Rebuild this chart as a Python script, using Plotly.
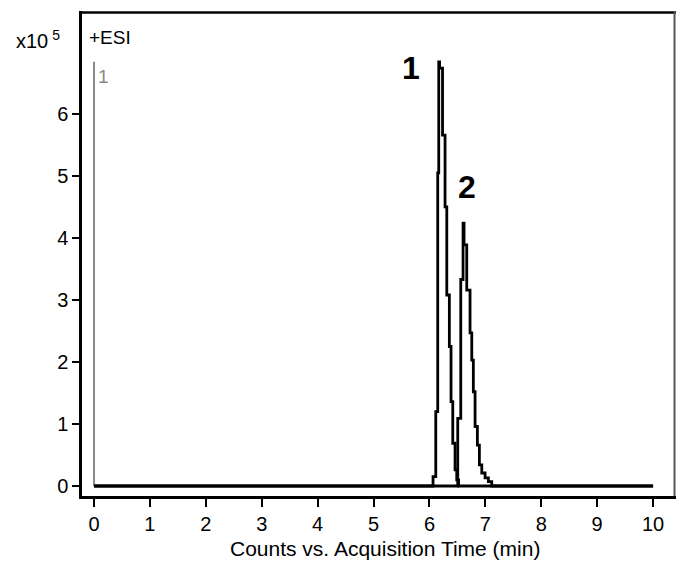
import plotly.graph_objects as go

# Peak 1 (compound 1) chromatogram: acquisition time (min) vs counts (x10^5)
t1 = [0.0, 6.064, 6.113, 6.148, 6.166, 6.181, 6.234, 6.279, 6.310, 6.356, 6.386,
      6.417, 6.458, 6.488, 6.521, 6.548, 10.0]
y1 = [0.0, 0.0, 0.15, 1.20, 5.05, 6.84, 6.74, 5.66, 4.50, 3.08, 2.25,
      1.36, 0.69, 0.26, 0.10, 0.0, 0.0]

# Peak 2 (compound 2)
t2 = [0.0, 6.506, 6.560, 6.601, 6.619, 6.667, 6.726, 6.757, 6.785, 6.816, 6.857,
      6.893, 6.936, 6.995, 7.054, 7.114, 7.16, 10.0]
y2 = [0.0, 0.0, 1.09, 3.33, 4.24, 3.89, 3.16, 2.47, 2.03, 1.52, 0.96,
      0.66, 0.34, 0.21, 0.13, 0.07, 0.0, 0.0]

# scale marker
marker_t = [0.0, 0.0]
marker_y = [0.0, 6.84]

x_ticks = list(range(0, 11))
y_ticks = list(range(0, 7))
peak_labels = ["1", "2"]
peak_label_t = [5.67, 6.67]
peak_label_y = [6.74, 4.82]

FONT = "Liberation Sans, Arial, sans-serif"

fig = go.Figure()
fig.add_trace(go.Scatter(x=marker_t, y=marker_y, mode="lines",
                         line=dict(color="#8a8a8a", width=2), hoverinfo="skip"))
fig.add_trace(go.Scatter(x=t1, y=y1, mode="lines", line_shape="vh",
                         line=dict(color="black", width=2.8)))
fig.add_trace(go.Scatter(x=t2, y=y2, mode="lines", line_shape="vh",
                         line=dict(color="black", width=2.8)))

annotations = []
for lab, tx, ty in zip(peak_labels, peak_label_t, peak_label_y):
    annotations.append(dict(x=tx, y=ty, xref="x", yref="y", text="<b>%s</b>" % lab,
                            showarrow=False, font=dict(family=FONT, size=32, color="black")))
annotations += [
    dict(x=0.17, y=6.61, xref="x", yref="y", text="1", showarrow=False,
         font=dict(family=FONT, size=19, color="#8a8a8a")),
    dict(x=-0.115, y=0.942, xref="paper", yref="paper", xanchor="left", yanchor="middle",
         text="x10<sup> 5</sup>", showarrow=False, font=dict(family=FONT, size=20, color="black")),
    dict(x=0.009, y=0.945, xref="paper", yref="paper", xanchor="left", yanchor="middle",
         text="+ESI", showarrow=False, font=dict(family=FONT, size=19, color="black")),
    dict(x=0.51, y=-0.109, xref="paper", yref="paper", xanchor="center", yanchor="middle",
         text="Counts vs. Acquisition Time (min)", showarrow=False,
         font=dict(family=FONT, size=21, color="black")),
]

shapes = [
    dict(type="line", xref="paper", yref="paper", x0=0, x1=1, y0=0.997, y1=0.997,
         line=dict(color="black", width=2.5), layer="above"),
    dict(type="line", xref="paper", yref="paper", x0=0.9975, x1=0.9975, y0=0, y1=1,
         line=dict(color="#555555", width=2), layer="above"),
]

fig.update_layout(
    width=677, height=563,
    margin=dict(l=82, r=1, t=11, b=67),
    paper_bgcolor="white", plot_bgcolor="white",
    showlegend=False,
    font=dict(family=FONT, size=20, color="black"),
    annotations=annotations,
    shapes=shapes,
    xaxis=dict(range=[-0.215, 10.41], tickvals=x_ticks, ticktext=[str(v) for v in x_ticks],
               showgrid=False, zeroline=False, showline=True, linecolor="black", linewidth=3,
               ticks="outside", ticklen=8, tickwidth=2, tickcolor="black",
               tickfont=dict(family=FONT, size=20)),
    yaxis=dict(range=[-0.161, 7.66], tickvals=y_ticks, ticktext=[str(v) for v in y_ticks],
               showgrid=False, zeroline=False, showline=True, linecolor="black", linewidth=2.5,
               ticks="outside", ticklen=7, tickwidth=2, tickcolor="black",
               tickfont=dict(family=FONT, size=20)),
)

fig.write_html("out.html", config={"displayModeBar": False},
               post_script="document.body.style.margin='0';document.body.style.overflow='hidden';")
